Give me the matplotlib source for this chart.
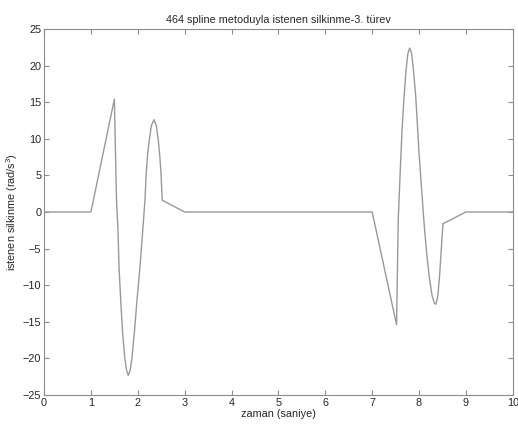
import numpy as np
import matplotlib
matplotlib.use('Agg')
import matplotlib.pyplot as plt

# time (s) and third-derivative values
t_vals = [0.0, 1.0, 1.5, 1.546, 1.578, 1.599, 1.64, 1.678, 1.72, 1.76, 1.797,
          1.835, 1.875, 1.925, 1.98, 2.047, 2.10, 2.153, 2.18, 2.21, 2.245,
          2.29, 2.345, 2.395, 2.437, 2.47, 2.495, 2.522, 3.0,
          7.0, 7.52, 7.555, 7.605, 7.64, 7.68, 7.72, 7.76, 7.80, 7.84,
          7.88, 7.93, 8.00, 8.05, 8.10, 8.16, 8.22, 8.28, 8.33, 8.36,
          8.40, 8.44, 8.48, 8.51, 9.0, 10.0]
jerk = [0.0, 0.0, 15.4, 1.6, -2.5, -7.5, -12.5, -16.6, -19.8, -21.6, -22.3,
        -21.7, -20.0, -16.6, -12.3, -7.5, -3.0, 1.6, 5.3, 7.9, 9.8,
        11.8, 12.6, 11.8, 9.8, 7.6, 5.3, 1.6, 0.0,
        0.0, -15.4, -1.2, 6.6, 11.6, 15.7, 19.2, 21.6, 22.4, 21.7,
        19.4, 15.7, 8.0, 3.5, -1.0, -5.5, -9.0, -11.5, -12.5, -12.6,
        -11.5, -8.5, -4.5, -1.6, 0.0, 0.0]

plt.rcParams['font.family'] = ['Liberation Sans', 'DejaVu Sans']
plt.rcParams['mathtext.default'] = 'regular'

fig = plt.figure(figsize=(5.18, 4.30), dpi=100)
ax = fig.add_axes([0.085, 0.0814, 0.905, 0.8512])

ax.plot(t_vals, jerk, color='#999999', linewidth=1.0)

ax.set_xlim(0, 10)
ax.set_ylim(-25, 25)
ax.set_xticks(np.arange(0, 11, 1))
ax.set_yticks(np.arange(-25, 26, 5))

txt = '#262626'
ax.set_title('464 spline metoduyla istenen silkinme-3. türev', fontsize=7.8, color=txt, pad=4)
ax.set_xlabel('zaman (saniye)', fontsize=7.8, color=txt, labelpad=1)
ax.set_ylabel('istenen silkinme (rad/s$^{3}$)', fontsize=7.8, color=txt, labelpad=2)

ax.tick_params(direction='in', top=True, right=True, length=3.5, width=0.8,
               color='#8c8c8c', labelsize=7.8, labelcolor=txt, pad=2)
for s in ax.spines.values():
    s.set_color('#8c8c8c')
    s.set_linewidth(0.8)

fig.savefig('out.png', dpi=100)
